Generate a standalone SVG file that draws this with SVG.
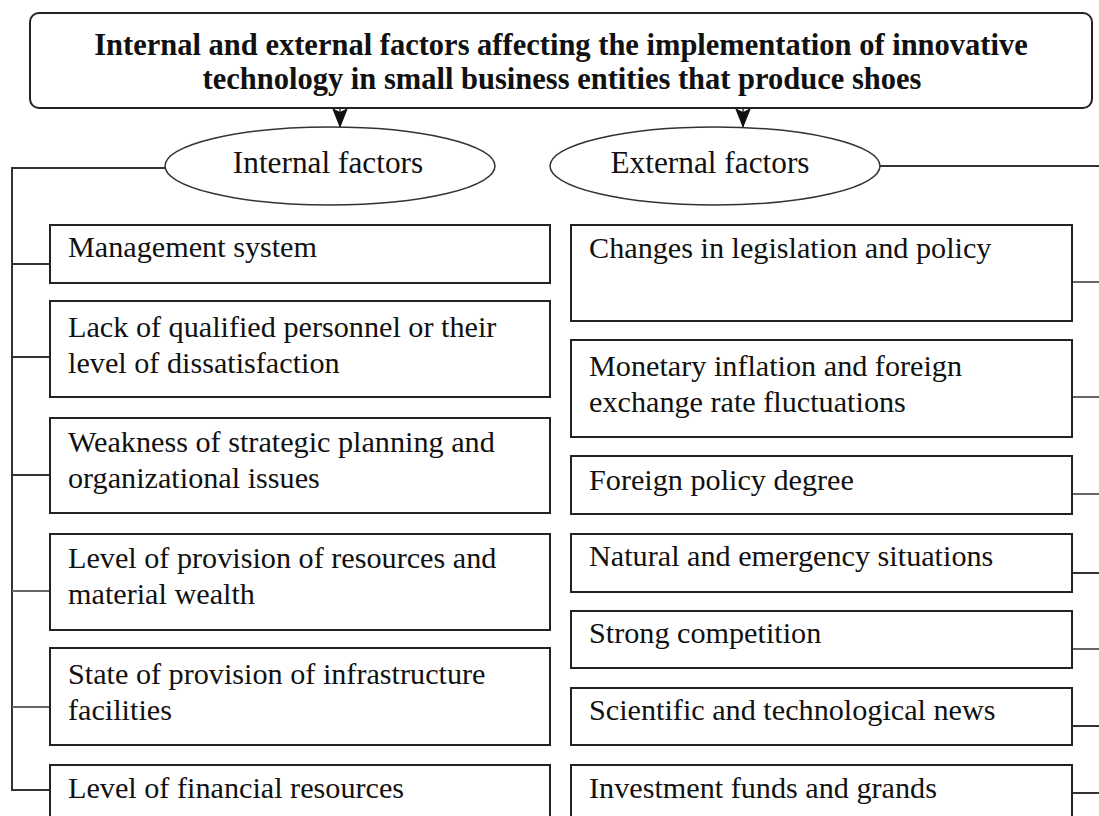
<svg xmlns="http://www.w3.org/2000/svg" width="1099" height="816" viewBox="0 0 1099 816">
  <style>
    .box { fill: #fff; stroke: #222; stroke-width: 2; }
    .oval { fill: #fff; stroke: #333; stroke-width: 1.5; }
    .wire { fill: none; stroke: #333; stroke-width: 2; }
    .soft { stroke: #666; }
    .txt { font-family: "Liberation Serif", "Times New Roman", serif; font-size: 30.2px; fill: #111; }
    .head { font-family: "Liberation Serif", "Times New Roman", serif; font-size: 30.5px; font-weight: bold; fill: #111; text-anchor: middle; }
    .lbl { font-family: "Liberation Serif", "Times New Roman", serif; font-size: 31.3px; fill: #111; text-anchor: middle; }
  </style>
  <defs>
    <!-- notched arrowhead, 20 long x 16 wide -->
    <marker id="arr" markerWidth="20" markerHeight="16" refX="20" refY="8" orient="auto" markerUnits="userSpaceOnUse" viewBox="0 0 20 16">
      <path d="M0,0 L4,8 L0,16 L20,8 Z" fill="#111"/>
    </marker>
  </defs>

  <rect width="1099" height="816" fill="#fff"/>

  <!-- connectors -->
  <g id="connectors">
    <line class="wire" x1="340" y1="108" x2="340" y2="128" marker-end="url(#arr)" style="stroke-width:1.5"/>
    <line class="wire" x1="743" y1="108" x2="743" y2="128" marker-end="url(#arr)" style="stroke-width:1.5"/>
    <!-- internal trunk -->
    <path class="wire" d="M165,168 H12 V790 H50"/>
    <line class="wire" x1="12" y1="264" x2="50" y2="264"/>
    <line class="wire" x1="12" y1="357" x2="50" y2="357"/>
    <line class="wire" x1="12" y1="475" x2="50" y2="475"/>
    <line class="wire soft" x1="12" y1="591" x2="50" y2="591"/>
    <line class="wire soft" x1="12" y1="707" x2="50" y2="707"/>
    <!-- external trunk -->
    <line class="wire" x1="880" y1="166" x2="1099" y2="166"/>
    <line class="wire soft" x1="1072" y1="282" x2="1099" y2="282"/>
    <line class="wire soft" x1="1072" y1="397" x2="1099" y2="397"/>
    <line class="wire soft" x1="1072" y1="494" x2="1099" y2="494"/>
    <line class="wire" x1="1072" y1="573" x2="1099" y2="573"/>
    <line class="wire soft" x1="1072" y1="649" x2="1099" y2="649"/>
    <line class="wire" x1="1072" y1="726" x2="1099" y2="726"/>
    <line class="wire" x1="1072" y1="793" x2="1099" y2="793"/>
  </g>

  <g id="title">
    <rect class="box" x="30" y="13" width="1062" height="95" rx="9"/>
    <text class="head" x="561" y="55">Internal and external factors affecting the implementation of innovative</text>
    <text class="head" x="562" y="89">technology in small business entities that produce shoes</text>
  </g>

  <g id="internal">
    <ellipse class="oval" cx="330" cy="166" rx="165" ry="39"/>
    <text class="lbl" x="328" y="173">Internal factors</text>
  </g>
  <g id="external">
    <ellipse class="oval" cx="715" cy="166" rx="165" ry="39"/>
    <text class="lbl" x="710" y="173">External factors</text>
  </g>

  <!-- internal factor boxes -->
  <g id="int1"><rect class="box" x="50" y="225" width="500" height="58"/>
    <text class="txt" x="68" y="257">Management system</text></g>
  <g id="int2"><rect class="box" x="50" y="301" width="500" height="96"/>
    <text class="txt" x="68" y="337">Lack of qualified personnel or their</text>
    <text class="txt" x="68" y="373">level of dissatisfaction</text></g>
  <g id="int3"><rect class="box" x="50" y="418" width="500" height="95"/>
    <text class="txt" x="68" y="452">Weakness of strategic planning and</text>
    <text class="txt" x="68" y="488">organizational issues</text></g>
  <g id="int4"><rect class="box" x="50" y="534" width="500" height="96"/>
    <text class="txt" x="68" y="568">Level of provision of resources and</text>
    <text class="txt" x="68" y="604">material wealth</text></g>
  <g id="int5"><rect class="box" x="50" y="648" width="500" height="97"/>
    <text class="txt" x="68" y="684">State of provision of infrastructure</text>
    <text class="txt" x="68" y="720">facilities</text></g>
  <g id="int6"><rect class="box" x="50" y="765" width="500" height="60"/>
    <text class="txt" x="68" y="798">Level of financial resources</text></g>

  <!-- external factor boxes -->
  <g id="ext1"><rect class="box" x="571" y="225" width="501" height="96"/>
    <text class="txt" x="589" y="258">Changes in legislation and policy</text></g>
  <g id="ext2"><rect class="box" x="571" y="340" width="501" height="97"/>
    <text class="txt" x="589" y="376">Monetary inflation and foreign</text>
    <text class="txt" x="589" y="412">exchange rate fluctuations</text></g>
  <g id="ext3"><rect class="box" x="571" y="456" width="501" height="58"/>
    <text class="txt" x="589" y="490">Foreign policy degree</text></g>
  <g id="ext4"><rect class="box" x="571" y="534" width="501" height="58"/>
    <text class="txt" x="589" y="566">Natural and emergency situations</text></g>
  <g id="ext5"><rect class="box" x="571" y="611" width="501" height="57"/>
    <text class="txt" x="589" y="643">Strong competition</text></g>
  <g id="ext6"><rect class="box" x="571" y="688" width="501" height="57"/>
    <text class="txt" x="589" y="720">Scientific and technological news</text></g>
  <g id="ext7"><rect class="box" x="571" y="765" width="501" height="60"/>
    <text class="txt" x="589" y="798">Investment funds and grands</text></g>
</svg>
